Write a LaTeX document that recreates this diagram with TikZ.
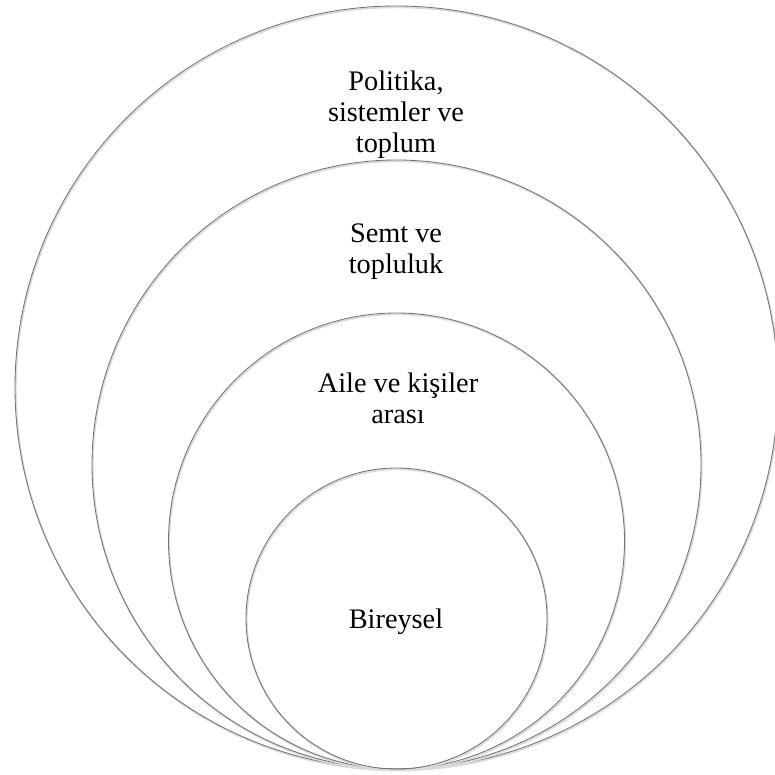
\documentclass[tikz,border=0pt]{standalone}
\usepackage{fontspec}
\setmainfont{Liberation Serif}
\begin{document}
\begin{tikzpicture}[x=1pt,y=-1pt,
  ring/.style={circle,draw=black!55,line width=0.85pt,inner sep=0pt,outer sep=0pt,
    preaction={draw=black!14,line width=1.8pt,transform canvas={shift={(0.8,1.3)}}}},
  lbl/.style={align=center,inner sep=0pt,anchor=base,
    font=\fontsize{28.3}{31}\selectfont}]
\useasboundingbox (0,0) rectangle (775,775);
\node[ring,minimum size=763pt] (c1) at (396.5,387.5) {};
\node[ring,minimum size=609pt] (c2) at (396.5,464.5) {};
\node[ring,minimum size=456pt] (c3) at (396.5,541) {};
\node[ring,minimum size=301pt] (c4) at (396.5,618.5) {};
\node[lbl] (t1) at (396,153) {Politika,\\sistemler ve\\toplum};
\node[lbl] (t2) at (396,273) {Semt ve\\topluluk};
\node[lbl] (t3) at (398,423) {Aile ve kişiler\\arası};
\node[lbl] (t4) at (396,628) {Bireysel};
\end{tikzpicture}
\end{document}
